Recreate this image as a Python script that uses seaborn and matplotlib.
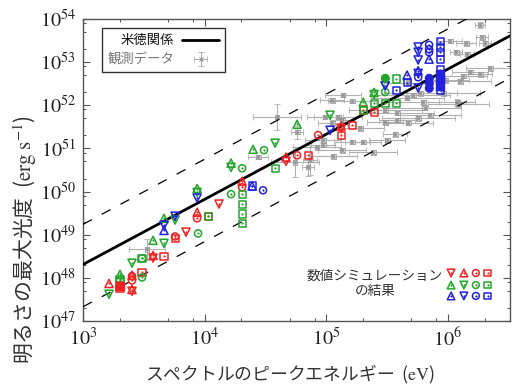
import numpy as np
import pandas as pd
import matplotlib
matplotlib.use("Agg")
import matplotlib.pyplot as plt
from matplotlib.ticker import LogLocator, FuncFormatter, NullFormatter
from matplotlib.lines import Line2D
import seaborn as sns

# ---------------- data (log10 values) ----------------
# Yonetoku relation: log L = rel_logL0 + rel_slope * (log E - 3)
rel_logL0 = 48.31
rel_slope = 1.51
band_up = 0.93
band_dn = -0.98

# observational data (grey)
obs_logE = [6.265, 6.281, 6.018, 6.150, 6.067, 6.158, 6.306, 6.347, 6.183, 6.125,
            6.100, 6.265, 6.076, 5.048, 5.138, 5.212, 4.990, 5.097, 5.566, 5.673,
            5.771, 5.714, 5.664, 5.796, 5.961, 5.484, 5.582, 4.760, 5.130, 5.048,
            5.278, 5.484, 5.582, 5.673, 5.500, 5.303, 5.212, 4.974, 4.924, 5.130,
            5.056, 4.743, 4.867, 4.974, 4.440, 4.850, 4.595, 3.526, 5.385, 6.084,
            5.977, 5.810, 5.854, 5.755]
obs_logL = [53.86, 53.58, 53.49, 53.44, 53.23, 53.19, 53.44, 52.86, 52.77, 52.68,
            52.56, 52.72, 52.07, 52.12, 52.24, 52.10, 51.73, 51.73, 51.33, 52.52,
            52.28, 52.24, 52.17, 52.07, 52.28, 51.89, 51.82, 51.38, 51.66, 51.59,
            51.47, 51.61, 51.66, 51.59, 51.19, 51.15, 51.15, 51.19, 51.03, 50.96,
            50.82, 50.68, 50.73, 51.08, 50.80, 50.57, 51.73, 48.66, 50.91, 52.03,
            52.58, 51.94, 51.77, 51.70]
obs_dlogE = [0.04, 0.05, 0.10, 0.08, 0.05, 0.06, 0.05, 0.20, 0.15, 0.20,
             0.25, 0.10, 0.15, 0.10, 0.15, 0.20, 0.15, 0.20, 0.10, 0.20,
             0.30, 0.30, 0.30, 0.35, 0.30, 0.30, 0.30, 0.05, 0.10, 0.12,
             0.20, 0.15, 0.15, 0.20, 0.15, 0.15, 0.15, 0.15, 0.20, 0.20,
             0.20, 0.20, 0.06, 0.10, 0.08, 0.05, 0.20, 0.15, 0.20, 0.25,
             0.20, 0.30, 0.25, 0.30]
obs_dlogL = [0.08, 0.05, 0.05, 0.05, 0.05, 0.05, 0.05, 0.05, 0.05, 0.05,
             0.05, 0.05, 0.08, 0.05, 0.05, 0.05, 0.05, 0.05, 0.05, 0.05,
             0.05, 0.05, 0.05, 0.05, 0.05, 0.05, 0.05, 0.15, 0.05, 0.05,
             0.05, 0.05, 0.05, 0.05, 0.05, 0.05, 0.05, 0.05, 0.05, 0.05,
             0.05, 0.35, 0.35, 0.05, 0.05, 0.20, 0.30, 0.25, 0.05, 0.08,
             0.05, 0.05, 0.05, 0.05]

# numerical simulations
red_up_logE = [3.214, 3.403, 3.938, 4.308, 4.669, 3.576, 5.122, 3.403]
red_up_logL = [47.87, 48.06, 49.52, 50.24, 50.80, 48.52, 51.52, 47.73]
red_dn_logE = [3.847, 4.118, 4.669, 3.576, 3.403, 5.122]
red_dn_logL = [49.06, 49.71, 50.70, 48.46, 47.69, 51.46]
red_o_logE = [3.403, 3.938, 4.308, 4.760, 4.933, 3.757, 3.403]
red_o_logL = [47.94, 49.38, 50.10, 50.84, 51.31, 48.96, 48.04]
red_sq_logE = [3.304, 3.485, 3.666, 3.757, 4.028, 4.850, 5.122, 5.212, 5.303, 5.393, 3.304]
red_sq_logL = [47.83, 48.13, 48.50, 48.92, 49.43, 50.84, 51.31, 51.54, 51.89, 51.84, 47.75]

green_up_logE = [3.304, 3.576, 3.666, 3.938, 4.217, 4.398, 4.760, 5.303, 5.393]
green_up_logL = [48.08, 48.87, 49.38, 50.07, 50.66, 50.98, 51.56, 52.07, 52.30]
green_dn_logE = [3.214, 3.403, 3.666, 3.757, 3.938, 4.217, 4.579, 5.031, 5.393, 5.484]
green_dn_logL = [47.62, 48.34, 48.80, 49.34, 49.98, 50.56, 51.12, 51.77, 52.25, 52.45]
green_o_logE = [3.304, 3.485, 3.485, 3.946, 4.217, 4.308, 4.488, 5.484, 5.484]
green_o_logL = [47.94, 48.01, 48.45, 49.03, 49.94, 50.54, 50.96, 52.31, 52.63]
green_sq_logE = [3.485, 4.028, 4.308, 4.308, 4.308, 4.308, 4.579, 5.303, 5.393, 5.484,
                 5.574, 5.574, 3.304]
green_sq_logL = [48.45, 49.43, 49.94, 49.71, 49.48, 49.27, 50.54, 51.87, 52.05, 52.05,
                 52.05, 52.61, 47.97]

blue_up_logE = [3.666, 4.390, 5.664, 5.845, 5.755]
blue_up_logL = [49.10, 50.13, 52.70, 53.07, 52.80]
blue_dn_logE = [3.666, 3.757, 3.938, 5.031, 5.484, 5.755, 5.755, 5.755, 5.755, 5.755]
blue_dn_logL = [49.22, 49.43, 49.85, 51.42, 52.45, 53.35, 53.23, 53.05, 52.74, 52.40]
blue_o_logE = [4.480, 5.755, 5.845, 5.845, 5.845, 5.845, 5.845, 5.845]
blue_o_logL = [50.03, 52.65, 53.40, 53.30, 53.23, 52.63, 52.52, 52.40]
blue_sq_logE = [4.390, 5.574, 5.664, 5.936, 5.936, 5.936, 5.936, 5.936, 5.936, 5.936, 5.936]
blue_sq_logL = [50.13, 52.35, 52.52, 53.47, 53.35, 53.23, 53.07, 52.82, 52.65, 52.52, 52.35]

# filled-looking (overlapping) markers
filled_color = ["red", "green", "blue", "blue", "blue", "blue", "blue", "blue"]
filled_marker = ["s", "o", "o", "o", "o", "s", "s", "s"]
filled_logE = [3.304, 5.484, 5.845, 5.845, 5.845, 5.936, 5.936, 5.936]
filled_logL = [47.80, 52.63, 52.63, 52.52, 52.40, 52.72, 52.60, 52.45]

sim_legend_rows = [["v", "^", "o", "s"], ["^", "v", "o", "s"], ["^", "v", "o", "s"]]

xlim_log = (3.0, 6.51)
ylim_log = (47.0, 54.0)

# ---------------- style ----------------
sns.set_theme(style="ticks")
plt.rcParams["font.family"] = ["Noto Sans CJK JP", "DejaVu Sans"]
plt.rcParams["mathtext.fontset"] = "stix"
plt.rcParams["axes.unicode_minus"] = False

COL = {"red": "#ee2222", "green": "#22a52a", "blue": "#2222dd"}

fig = plt.figure(figsize=(5.29, 3.85), dpi=100)
ax = fig.add_axes([83 / 529, 1 - 321 / 385, 427 / 529, 302 / 385])
ax.set_xscale("log")
ax.set_yscale("log")

# relation lines
lineE = np.array([10 ** xlim_log[0], 10 ** xlim_log[1]])
lineL = 10 ** (rel_logL0 + rel_slope * (np.log10(lineE) - 3))
rel_df = pd.DataFrame({"E": lineE, "L": lineL})
sns.lineplot(data=rel_df, x="E", y="L", color="black", lw=2.0, ax=ax, zorder=4)
for off in (band_up, band_dn):
    sns.lineplot(x=lineE, y=lineL * 10 ** off, color="black", lw=0.9,
                 dashes=(8, 9), ax=ax, zorder=4)

# observational data
oE = 10 ** np.array(obs_logE)
oL = 10 ** np.array(obs_logL)
dE = np.array(obs_dlogE)
dL = np.array(obs_dlogL)
xerr = [oE - oE / 10 ** dE, oE * 10 ** dE - oE]
yerr = [oL - oL / 10 ** dL, oL * 10 ** dL - oL]
obs_h = ax.errorbar(oE, oL, xerr=xerr, yerr=yerr, fmt="x", ms=2.2, mew=0.6,
                    color="#888888", ecolor="#b0b0b0", elinewidth=0.8, capsize=2,
                    capthick=0.8, zorder=2)
sns.scatterplot(x=oE, y=oL, marker="s", s=12, facecolor="none", edgecolor="#a0a0a0",
                linewidth=0.6, ax=ax, zorder=2)

# simulations
groups = [
    ("red", "^", red_up_logE, red_up_logL), ("red", "v", red_dn_logE, red_dn_logL),
    ("red", "o", red_o_logE, red_o_logL), ("red", "s", red_sq_logE, red_sq_logL),
    ("green", "^", green_up_logE, green_up_logL), ("green", "v", green_dn_logE, green_dn_logL),
    ("green", "o", green_o_logE, green_o_logL), ("green", "s", green_sq_logE, green_sq_logL),
    ("blue", "^", blue_up_logE, blue_up_logL), ("blue", "v", blue_dn_logE, blue_dn_logL),
    ("blue", "o", blue_o_logE, blue_o_logL), ("blue", "s", blue_sq_logE, blue_sq_logL),
]
for cname, mk, lx, ly in groups:
    df = pd.DataFrame({"E": 10 ** np.array(lx), "L": 10 ** np.array(ly)})
    sns.scatterplot(data=df, x="E", y="L", marker=mk, s=34 if mk in "^v" else 26,
                    facecolor="none", edgecolor=COL[cname], linewidth=1.1, ax=ax, zorder=5)
    sns.scatterplot(data=df, x="E", y="L", marker="o", s=2.5, color=COL[cname],
                    linewidth=0, ax=ax, zorder=5)
for c, mk, lx, ly in zip(filled_color, filled_marker, filled_logE, filled_logL):
    sns.scatterplot(x=[10 ** lx], y=[10 ** ly], marker=mk, s=26, color=COL[c],
                    edgecolor=COL[c], linewidth=1.0, ax=ax, zorder=5)

# simulation legend (marker grid)
row_cols = ["red", "green", "blue"]
col_x = [0.862, 0.892, 0.920, 0.948]
row_y = [0.159, 0.119, 0.083]
for r, (cname, mks) in enumerate(zip(row_cols, sim_legend_rows)):
    for c, mk in enumerate(mks):
        ax.scatter([col_x[c]], [row_y[r]], marker=mk, s=30 if mk in "^v" else 24,
                   facecolor="none", edgecolor=COL[cname], linewidth=1.1,
                   transform=ax.transAxes, zorder=6, clip_on=False)
        ax.scatter([col_x[c]], [row_y[r]], marker="o", s=2.5, color=COL[cname],
                   linewidth=0, transform=ax.transAxes, zorder=6, clip_on=False)
ax.text(0.684, 0.124, "数値シミュレーション\nの結果", transform=ax.transAxes,
        ha="center", va="center", fontsize=9.8, color="#333333", linespacing=1.15)

# axes
ax.set_xlim(10 ** xlim_log[0], 10 ** xlim_log[1])
ax.set_ylim(10 ** ylim_log[0], 10 ** ylim_log[1])
fmt = FuncFormatter(lambda v, p: r"$10^{%d}$" % round(np.log10(v)))
for axis in (ax.xaxis, ax.yaxis):
    axis.set_major_locator(LogLocator(base=10, numticks=20))
    axis.set_minor_locator(LogLocator(base=10, subs=(2, 5, 8), numticks=20))
    axis.set_major_formatter(fmt)
    axis.set_minor_formatter(NullFormatter())
ax.tick_params(which="both", direction="in", top=True, right=True, color="#555555")
ax.tick_params(which="major", length=5, width=0.8, labelsize=14.5, labelcolor="#222222", pad=5)
ax.tick_params(which="minor", length=2.5, width=0.7)
for sp in ax.spines.values():
    sp.set_color("#555555")
    sp.set_linewidth(1.0)

ax.set_xlabel("スペクトルのピークエネルギー  ($\\mathrm{eV}$)", fontsize=12.8, color="#333333")
ax.set_ylabel("明るさの最大光度  ($\\mathrm{erg\\ s^{-1}}$)", fontsize=15, color="#333333")
ax.xaxis.set_label_coords(0.485, -0.14)
ax.yaxis.set_label_coords(-0.104, 0.27)

# legend
handles = [Line2D([0], [0], color="black", lw=2.0), obs_h]
leg = ax.legend(handles, ["米徳関係", "観測データ"], loc="upper left",
                bbox_to_anchor=(0.044, 0.97), borderaxespad=0, fancybox=False,
                framealpha=1, edgecolor="#333333", fontsize=9.6, markerfirst=False,
                handlelength=2.8, borderpad=0.4, labelspacing=0.4, handletextpad=0.6)
leg.get_frame().set_linewidth(1.0)
leg.get_texts()[0].set_color("#111111")
leg.get_texts()[1].set_color("#777777")

fig.savefig("out.png", dpi=100)
